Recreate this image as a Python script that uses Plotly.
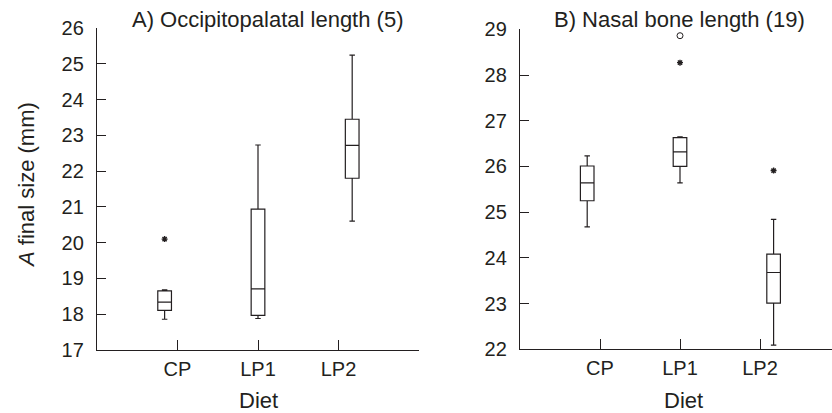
import plotly.graph_objects as go

categories = ["CP", "LP1", "LP2"]

# Panel A: Occipitopalatal length (5)
a_q1 = [18.11, 17.97, 21.80]
a_median = [18.34, 18.71, 22.72]
a_q3 = [18.65, 20.94, 23.45]
a_lower = [17.86, 17.88, 20.60]
a_upper = [18.68, 22.73, 25.24]
a_out_cat = ["CP"]
a_out_val = [20.10]

# Panel B: Nasal bone length (19)
b_q1 = [25.25, 26.00, 23.01]
b_median = [25.64, 26.32, 23.68]
b_q3 = [26.01, 26.63, 24.08]
b_lower = [24.68, 25.64, 22.09]
b_upper = [26.23, 26.65, 24.84]
b_out_cat = ["LP1", "LP2"]
b_out_val = [28.27, 25.91]
b_far_cat = ["LP1"]
b_far_val = [28.86]

a_yticks = [17, 18, 19, 20, 21, 22, 23, 24, 25, 26]
b_yticks = [22, 23, 24, 25, 26, 27, 28, 29]

INK = "#231f20"
FONT = "Liberation Sans, Arial, sans-serif"
W, H = 832, 413

tick_pos = {c: i + 1 for i, c in enumerate(categories)}
box_shift = {"CP": -0.16, "LP1": 0.0, "LP2": 0.17}

def bx(cats):
    return [tick_pos[c] + box_shift[c] for c in cats]

fig = go.Figure()

box_style = dict(fillcolor="white", line=dict(color=INK, width=1.2), width=0.17,
                 whiskerwidth=0.4, boxpoints=False, showlegend=False, hoverinfo="skip")

star = dict(symbol="asterisk-open", size=5, color=INK, line=dict(color=INK, width=1.4))

fig.add_trace(go.Box(x=bx(categories), q1=a_q1, median=a_median, q3=a_q3,
                     lowerfence=a_lower, upperfence=a_upper,
                     xaxis="x", yaxis="y", **box_style))
fig.add_trace(go.Scatter(x=bx(a_out_cat), y=a_out_val, mode="markers", marker=star,
                         xaxis="x", yaxis="y", showlegend=False))

fig.add_trace(go.Box(x=bx(categories), q1=b_q1, median=b_median, q3=b_q3,
                     lowerfence=b_lower, upperfence=b_upper,
                     xaxis="x2", yaxis="y2", **box_style))
fig.add_trace(go.Scatter(x=bx(b_out_cat), y=b_out_val, mode="markers", marker=star,
                         xaxis="x2", yaxis="y2", showlegend=False))
fig.add_trace(go.Scatter(x=bx(b_far_cat), y=b_far_val, mode="markers",
                         marker=dict(symbol="circle-open", size=6, color=INK,
                                     line=dict(color=INK, width=1)),
                         xaxis="x2", yaxis="y2", showlegend=False))

tickfont = dict(family=FONT, size=20, color=INK)

def xaxis(dom, rng, vals, text, anchor):
    return dict(domain=dom, range=rng, tickvals=vals, ticktext=text, anchor=anchor,
                showline=True, linecolor=INK, linewidth=1.3, ticks="inside",
                ticklen=10, tickcolor=INK, tickwidth=1.3, showgrid=False,
                zeroline=False, tickfont=tickfont, ticklabelstandoff=1)

def yaxis(dom, rng, vals, anchor):
    return dict(domain=dom, range=rng, tickvals=vals, anchor=anchor,
                showline=True, linecolor=INK, linewidth=1.3, ticks="inside",
                ticklen=9, tickcolor=INK, tickwidth=1.3, showgrid=False,
                zeroline=False, tickfont=tickfont, ticklabelstandoff=8)

def ann(text, x, y, size, angle=0):
    return dict(text=text, x=x / W, y=1 - y / H, xref="paper", yref="paper",
                xanchor="center", yanchor="middle", showarrow=False,
                textangle=angle, font=dict(family=FONT, size=size, color=INK))

fig.update_layout(
    width=W, height=H, margin=dict(l=0, r=0, t=0, b=0, autoexpand=False),
    paper_bgcolor="white", plot_bgcolor="white",
    xaxis=xaxis([97 / W, 419 / W], [0, 4], [1, 2, 3, 4], categories + [""], "y"),
    yaxis=yaxis([1 - 350 / H, 1 - 28 / H], [17, 26], a_yticks, "x"),
    xaxis2=xaxis([520 / W, 1.0], [0, 3.9], [1, 2, 3], categories, "y2"),
    yaxis2=yaxis([1 - 349.3 / H, 1 - 29.3 / H], [22, 29], b_yticks, "x2"),
    annotations=[
        ann("A) Occipitopalatal length (5)", 267, 19, 22),
        ann("B) Nasal bone length (19)", 679, 19, 22),
        ann("Diet", 258, 400, 22),
        ann("Diet", 683, 400, 22),
        ann("<i>A</i> final size (mm)", 26, 185, 22, -90),
    ],
)

fig.write_html("out.html")
